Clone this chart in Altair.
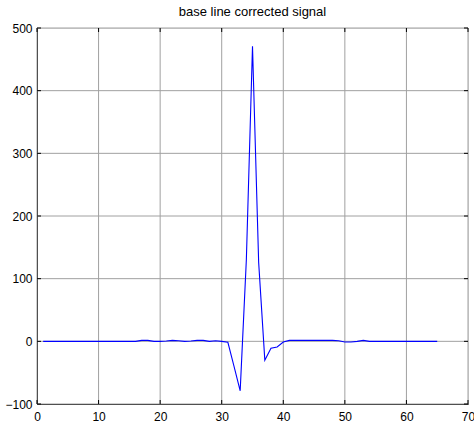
import altair as alt
import pandas as pd

# Sample index
x_vals = list(range(1, 66))
# Baseline corrected signal values
y_vals = [0]*16 + [1.5, 1.5, 0, 0, 0.5, 1.5, 1, 0, 0.5, 1.5, 1.5, 0, 1, 0,
                   -1.5, -40, -79, 130, 471, 126, -30, -11, -9, -1] + \
         [1.5]*8 + [1, -1, -1, 0, 1.5, 0] + [0]*11

x_ticks = [0, 10, 20, 30, 40, 50, 60, 70]
y_ticks = [-100, 0, 100, 200, 300, 400, 500]

df = pd.DataFrame({"x": x_vals, "y": y_vals})
xt = pd.DataFrame({"t": x_ticks})
yt = pd.DataFrame({"t": y_ticks})

W, H = 431, 376
FONT = "Liberation Sans"
GRID = "#a0a0a0"

xscale = alt.Scale(domain=[0, 70], nice=False, zero=False)
yscale = alt.Scale(domain=[-100, 500], nice=False, zero=False)

xgrid = alt.Chart(xt).mark_rule(color=GRID, strokeWidth=1).encode(
    x=alt.X("t:Q", scale=xscale,
            axis=alt.Axis(values=x_ticks, title=None, grid=False, domainColor="black",
                          tickSize=0, labelPadding=7, labelFontSize=12, labelFont=FONT,
                          labelColor="black", labelFlush=False)),
    y=alt.value(0), y2=alt.value(H))
ygrid = alt.Chart(yt).mark_rule(color=GRID, strokeWidth=1).encode(
    y=alt.Y("t:Q", scale=yscale,
            axis=alt.Axis(values=y_ticks, title=None, grid=False, domainColor="black",
                          tickSize=0, labelPadding=5, labelFontSize=12, labelFont=FONT,
                          labelColor="black", labelFlush=False)),
    x=alt.value(0), x2=alt.value(W))

line = alt.Chart(df).mark_line(color="#0000FF", strokeWidth=1.1).encode(
    x=alt.X("x:Q", scale=xscale),
    y=alt.Y("y:Q", scale=yscale),
)

top_ticks = alt.Chart(xt).mark_rule(color="black").encode(
    x=alt.X("t:Q", scale=xscale), y=alt.value(0), y2=alt.value(4))
bot_ticks = alt.Chart(xt).mark_rule(color="black").encode(
    x=alt.X("t:Q", scale=xscale), y=alt.value(H), y2=alt.value(H - 4))
left_ticks = alt.Chart(yt).mark_rule(color="black").encode(
    y=alt.Y("t:Q", scale=yscale), x=alt.value(0), x2=alt.value(4))
right_ticks = alt.Chart(yt).mark_rule(color="black").encode(
    y=alt.Y("t:Q", scale=yscale), x=alt.value(W), x2=alt.value(W - 4))

chart = alt.layer(xgrid, ygrid, top_ticks, bot_ticks, left_ticks, right_ticks, line).properties(
    width=W, height=H,
    title=alt.TitleParams("base line corrected signal", fontSize=13, font=FONT,
                          fontWeight="normal", color="black", offset=3),
    autosize=alt.AutoSizeParams(type="none"),
    padding={"left": 37, "top": 28, "right": 6, "bottom": 23},
).configure_view(stroke="black", strokeWidth=1).configure(background="white")

chart.save("out.html", embed_options={"renderer": "svg", "actions": False})
